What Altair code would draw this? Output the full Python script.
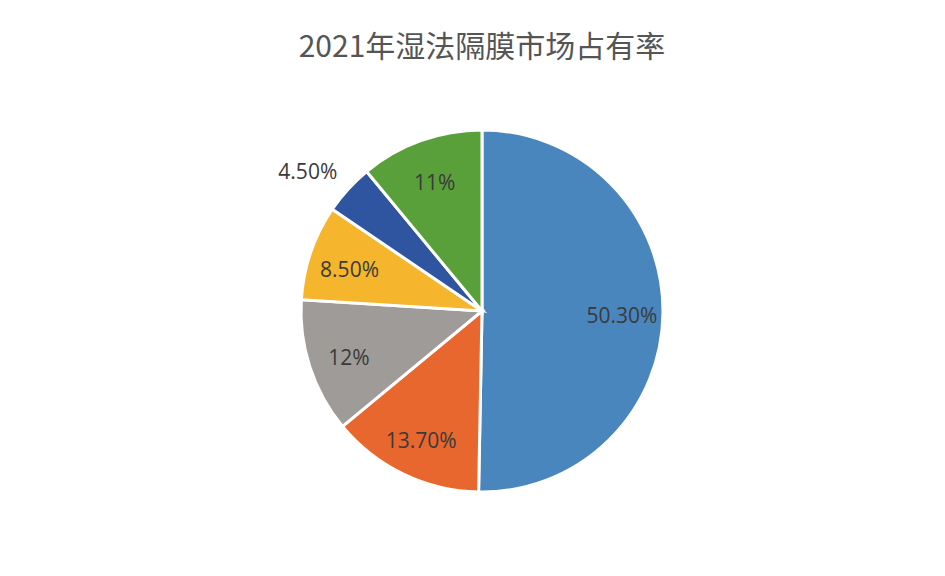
import altair as alt
import pandas as pd

labels = ["50.30%", "13.70%", "12%", "8.50%", "4.50%", "11%"]
values = [50.3, 13.7, 12.0, 8.5, 4.5, 11.0]
colors = ["#4A86BE", "#E8672E", "#9E9B99", "#F5B52C", "#2F55A0", "#5AA03A"]
order = [0, 1, 2, 3, 4, 5]
outside = [False, False, False, False, True, False]

df = pd.DataFrame({"label": labels, "value": values, "order": order, "outside": outside})

base = alt.Chart(df).encode(
    theta=alt.Theta("value:Q", stack=True),
    order=alt.Order("order:Q", sort="ascending"),
)

pie = base.mark_arc(outerRadius=181, stroke="white", strokeWidth=3).encode(
    color=alt.Color("label:N", sort=labels,
                    scale=alt.Scale(domain=labels, range=colors), legend=None)
)

text_in = base.mark_text(fontSize=21, font="Open Sans", color="#3A3A3A",
                         radius=140, dy=5).encode(
    text=alt.condition(alt.datum.outside, alt.value(""), alt.Text("label:N")),
)

text_out = base.mark_text(fontSize=21, font="Open Sans", color="#3A3A3A",
                          radius=222, dx=-10, dy=11).encode(
    text=alt.condition(alt.datum.outside, alt.Text("label:N"), alt.value("")),
)

chart = alt.layer(pie, text_in, text_out).properties(
    width=600,
    height=400,
    padding={"left": 174, "top": 103, "right": 0, "bottom": 0},
    autosize=alt.AutoSizeParams(type="none"),
    title=alt.TitleParams(
        "2021年湿法隔膜市场占有率",
        fontSize=30,
        font="Noto Sans CJK SC",
        fontWeight="normal",
        color="#555555",
        anchor="middle",
        offset=39,
    ),
).configure_view(stroke=None)

chart.save("out.html", embed_options={"renderer": "svg", "actions": False})
